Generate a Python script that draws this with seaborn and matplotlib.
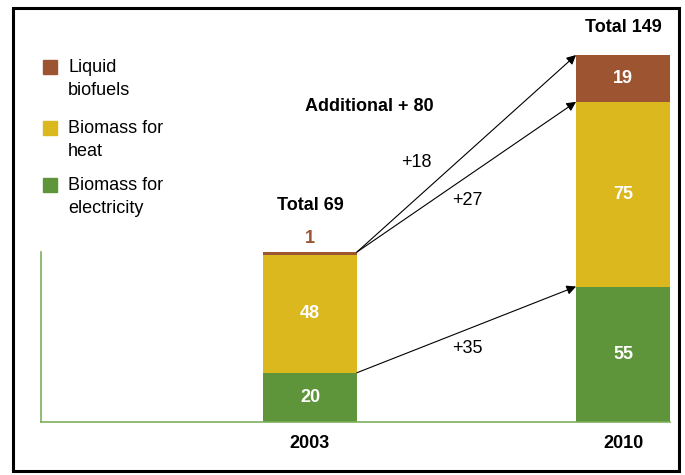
import numpy as np
import pandas as pd
import matplotlib
matplotlib.use("Agg")
import matplotlib.pyplot as plt
import seaborn as sns
from matplotlib.patches import Rectangle

# Data
years = ['2003', '2010']
electricity = [20, 55]
heat = [48, 75]
liquid = [1, 19]
series_names = ['Liquid\nbiofuels', 'Biomass for\nheat', 'Biomass for\nelectricity']

brown = '#9C5530'
yellow = '#DBB81D'
green = '#5F953A'
axis_green = '#7DAF5C'

df = pd.DataFrame({'year': years, 'electricity': electricity, 'heat': heat, 'liquid': liquid})
df['heat_top'] = df['electricity'] + df['heat']
df['total'] = df['heat_top'] + df['liquid']

sns.set_style('white')
plt.rcParams['font.family'] = ['Liberation Sans', 'DejaVu Sans']
plt.rcParams['text.color'] = 'black'
plt.rcParams['xtick.color'] = 'black'

fig = plt.figure(figsize=(6.85, 4.75), dpi=100)
ax = fig.add_axes([41 / 685, 1 - 422 / 475, 629 / 685, 367 / 475])

bw = 0.30
# stacked bars drawn as overlapping cumulative bars
sns.barplot(data=df, x='year', y='total', color=brown, width=bw, saturation=1, ax=ax, linewidth=0)
sns.barplot(data=df, x='year', y='heat_top', color=yellow, width=bw, saturation=1, ax=ax, linewidth=0)
sns.barplot(data=df, x='year', y='electricity', color=green, width=bw, saturation=1, ax=ax, linewidth=0)

ax.set_xlim(-0.859, 1.150)
ax.set_ylim(0, 149)
ax.set_xlabel('')
ax.set_ylabel('')
ax.set_yticks([])
for s in ['top', 'right']:
    ax.spines[s].set_visible(False)
ax.spines['left'].set_color(axis_green)
ax.spines['bottom'].set_color(axis_green)
ax.spines['left'].set_linewidth(1.2)
ax.spines['bottom'].set_linewidth(1.2)
ax.spines['left'].set_bounds(0, df['total'][0])
ax.tick_params(axis='x', length=0, pad=9, labelsize=13, labelcolor='black')
for lbl in ax.get_xticklabels():
    lbl.set_fontweight('bold')

fs = 13
# segment labels
for i in range(len(years)):
    e, h, l = electricity[i], heat[i], liquid[i]
    ax.text(i, e / 2, str(e), ha='center', va='center', color='white', fontsize=fs, fontweight='bold')
    ax.text(i, e + h / 2, str(h), ha='center', va='center', color='white', fontsize=fs, fontweight='bold')
    if l > 5:
        ax.text(i, e + h + l / 2, str(l), ha='center', va='center', color='white', fontsize=fs, fontweight='bold')
    else:
        ax.text(i, e + h + 6.5, str(l), ha='center', va='center', color=brown, fontsize=fs, fontweight='bold')

ax.text(0, 88.1, f'Total {df["total"][0]}', ha='center', va='center', fontsize=fs, fontweight='bold')
ax.text(1, 160, f'Total {df["total"][1]}', ha='center', va='center', fontsize=fs, fontweight='bold', clip_on=False)
ax.text(0.19, 127.9, f'Additional + {df["total"][1] - df["total"][0]}', ha='center', va='center',
        fontsize=fs, fontweight='bold')

# arrows
x0, x1 = bw / 2, 1 - bw / 2
arrow = dict(arrowstyle='-|>', color='black', lw=0.8, mutation_scale=14, shrinkA=0, shrinkB=0)
starts = [df['total'][0], df['total'][0], df['electricity'][0]]
ends = [df['total'][1], df['heat_top'][1], df['electricity'][1]]
for ys, ye in zip(starts, ends):
    ax.annotate('', xy=(x1, ye), xytext=(x0, ys), arrowprops=arrow, annotation_clip=False)

ax.text(0.339, 105.2, f'+{liquid[1] - liquid[0]}', ha='center', va='center', fontsize=fs)
ax.text(0.502, 90.1, f'+{heat[1] - heat[0]}', ha='center', va='center', fontsize=fs)
ax.text(0.502, 30.0, f'+{electricity[1] - electricity[0]}', ha='center', va='center', fontsize=fs)

# legend drawn by hand so the swatch sits beside the first line
legend_colors = [brown, yellow, green]
legend_y = [67, 128, 185]
for c, name, yp in zip(legend_colors, series_names, legend_y):
    fig.patches.append(Rectangle((43 / 685, 1 - (yp + 7) / 475), 14 / 685, 14 / 475,
                                 transform=fig.transFigure, color=c, figure=fig))
    fig.text(68 / 685, 1 - (yp - 8) / 475, name, ha='left', va='top', fontsize=fs, linespacing=1.45)

# black frame
fig.patches.append(Rectangle((13 / 685, 1 - 471 / 475), 666 / 685, 463 / 475, transform=fig.transFigure,
                             fill=False, edgecolor='black', lw=2.2, figure=fig))

plt.savefig('out.png', dpi=100)
plt.close()
